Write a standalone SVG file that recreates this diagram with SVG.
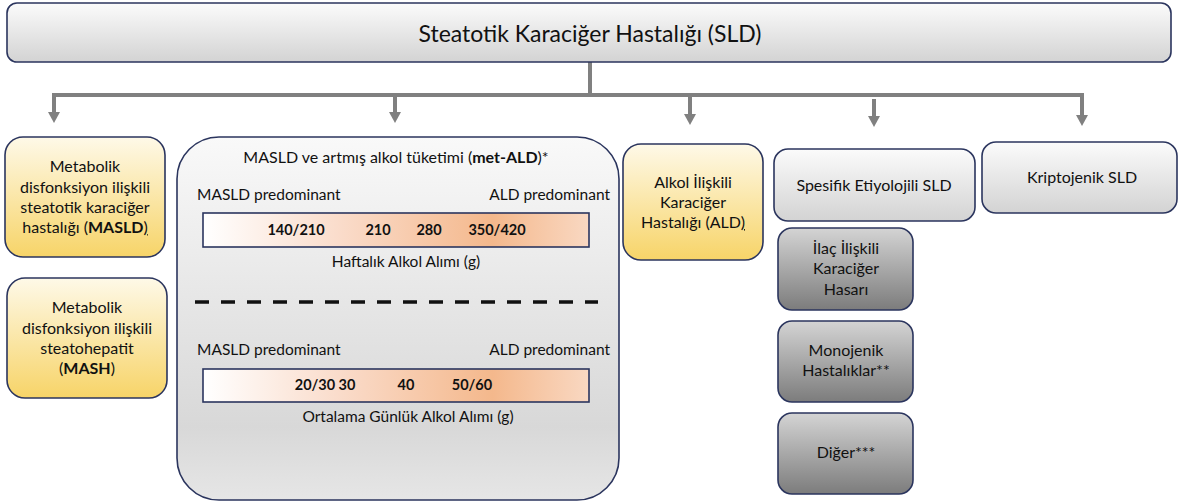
<svg xmlns="http://www.w3.org/2000/svg" width="1179" height="503" viewBox="0 0 1179 503">
<style>
text{font-family:Lato,"Open Sans","Liberation Sans",sans-serif;fill:#111;}
.t16{font-size:16px;text-anchor:middle;}
.t15{font-size:15.5px;}
.num{font-size:14.5px;font-weight:bold;text-anchor:middle;}
.b{font-weight:bold;}
.box{stroke:#2b355e;stroke-width:1.6;}
.conn{stroke:#808080;stroke-width:4;fill:none;}
.u{text-decoration:underline;}
</style>
<defs>
<linearGradient id="gLight" x1="0" y1="0" x2="0" y2="1"><stop offset="0" stop-color="#fbfbfb"/><stop offset="1" stop-color="#d3d3d3"/></linearGradient>
<linearGradient id="gMid" x1="0" y1="0" x2="0" y2="1"><stop offset="0" stop-color="#f9f9f9"/><stop offset="0.8" stop-color="#d8d8d8"/><stop offset="1" stop-color="#e6e6e6"/></linearGradient>
<linearGradient id="gYellow" x1="0" y1="0" x2="0" y2="1"><stop offset="0" stop-color="#fef9e8"/><stop offset="1" stop-color="#f7d468"/></linearGradient>
<linearGradient id="gDark" x1="0" y1="0" x2="0" y2="1"><stop offset="0" stop-color="#d4d4d4"/><stop offset="1" stop-color="#7c7c7c"/></linearGradient>
<linearGradient id="gBar" x1="0" y1="0" x2="1" y2="0"><stop offset="0" stop-color="#ffffff"/><stop offset="0.35" stop-color="#fadccb"/><stop offset="0.75" stop-color="#f4b88c"/><stop offset="1" stop-color="#f9d8c2"/></linearGradient>
<marker id="arr" markerUnits="userSpaceOnUse" markerWidth="11" markerHeight="12" viewBox="0 0 11 12" refX="0" refY="6" orient="auto"><path d="M0,0 L11,6 L0,12 z" fill="#808080"/></marker>
</defs>

<g id="connectors">
<path class="conn" d="M590,62 V95"/>
<path class="conn" d="M52,95 H1084"/>
<path class="conn" d="M54,95 V112" marker-end="url(#arr)"/>
<path class="conn" d="M395,95 V112" marker-end="url(#arr)"/>
<path class="conn" d="M690,97 V114" marker-end="url(#arr)"/>
<path class="conn" d="M874,99 V116" marker-end="url(#arr)"/>
<path class="conn" d="M1082,95 V115" marker-end="url(#arr)"/>
</g>

<g id="sld">
<rect class="box" x="7" y="3" width="1164" height="59" rx="10" fill="url(#gLight)"/>
<text x="590" y="42" style="font-size:23px;text-anchor:middle">Steatotik Karaciğer Hastalığı (SLD)</text>
</g>

<g id="masld">
<rect class="box" x="5" y="137" width="160" height="120" rx="18" fill="url(#gYellow)"/>
<text class="t16" x="85" y="172">Metabolik</text>
<text class="t16" x="85" y="193">disfonksiyon ilişkili</text>
<text class="t16" x="85" y="213">steatotik karaciğer</text>
<text class="t16" x="85" y="233">hastalığı (<tspan class="b">MASLD</tspan><tspan class="u">)</tspan></text>
</g>

<g id="mash">
<rect class="box" x="7" y="278" width="160" height="120" rx="18" fill="url(#gYellow)"/>
<text class="t16" x="87" y="313">Metabolik</text>
<text class="t16" x="87" y="334">disfonksiyon ilişkili</text>
<text class="t16" x="87" y="354">steatohepatit</text>
<text class="t16" x="87" y="374">(<tspan class="b">MASH</tspan>)</text>
</g>

<g id="metald">
<rect class="box" x="177" y="137" width="442" height="363" rx="42" fill="url(#gMid)"/>
<text class="t16" x="396" y="163">MASLD ve artmış alkol tüketimi (<tspan class="b">met-ALD</tspan>)*</text>
<text class="t15" x="197" y="200">MASLD predominant</text>
<text class="t15" x="610" y="200" text-anchor="end">ALD predominant</text>
<rect class="box" x="203" y="213" width="386" height="34" fill="url(#gBar)"/>
<text class="num" x="296" y="235">140/210</text>
<text class="num" x="378" y="235">210</text>
<text class="num" x="429" y="235">280</text>
<text class="num" x="497" y="235">350/420</text>
<text class="t15" x="406" y="267" text-anchor="middle">Haftalık Alkol Alımı (g)</text>
<line x1="195" y1="302" x2="598" y2="302" stroke="#111" stroke-width="3.5" stroke-dasharray="14 12"/>
<text class="t15" x="197" y="355">MASLD predominant</text>
<text class="t15" x="610" y="355" text-anchor="end">ALD predominant</text>
<rect class="box" x="203" y="369" width="386" height="33" fill="url(#gBar)"/>
<text class="num" x="315" y="390">20/30</text>
<text class="num" x="347" y="390">30</text>
<text class="num" x="406" y="390">40</text>
<text class="num" x="472" y="390">50/60</text>
<text class="t15" x="408" y="422" text-anchor="middle">Ortalama Günlük Alkol Alımı (g)</text>
</g>

<g id="ald">
<rect class="box" x="623" y="144" width="140" height="116" rx="18" fill="url(#gYellow)"/>
<text class="t16" x="693" y="188">Alkol İlişkili</text>
<text class="t16" x="693" y="208">Karaciğer</text>
<text class="t16" x="693" y="228">Hastalığı (ALD<tspan class="u">)</tspan></text>
</g>

<g id="spesifik">
<rect class="box" x="774" y="149" width="201" height="72" rx="14" fill="url(#gLight)"/>
<text class="t16" x="874" y="191">Spesifik Etiyolojili SLD</text>
</g>

<g id="kriptojenik">
<rect class="box" x="982" y="142" width="195" height="71" rx="14" fill="url(#gLight)"/>
<text class="t16" x="1082" y="183">Kriptojenik SLD</text>
</g>

<g id="ilac">
<rect class="box" x="778" y="228" width="135" height="82" rx="14" fill="url(#gDark)"/>
<text class="t16" x="846" y="254">İlaç İlişkili</text>
<text class="t16" x="846" y="274">Karaciğer</text>
<text class="t16" x="846" y="295">Hasarı</text>
</g>

<g id="monojenik">
<rect class="box" x="778" y="321" width="135" height="81" rx="14" fill="url(#gDark)"/>
<text class="t16" x="846" y="356">Monojenik</text>
<text class="t16" x="846" y="376">Hastalıklar**</text>
</g>

<g id="diger">
<rect class="box" x="778" y="413" width="135" height="81" rx="14" fill="url(#gDark)"/>
<text class="t16" x="846" y="458">Diğer***</text>
</g>
</svg>
